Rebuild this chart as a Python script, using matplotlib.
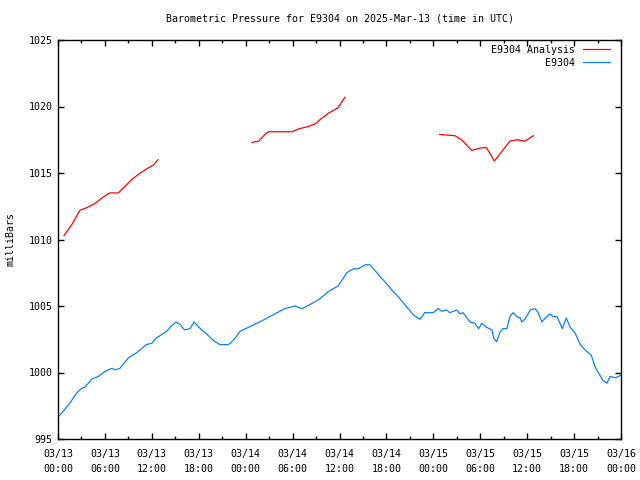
"""
Barometric pressure for E9304, gnuplot-style recreation
"""

import numpy as np
from matplotlib import pyplot as plt
from matplotlib.ticker import MultipleLocator

title = "Barometric Pressure for E9304 on 2025-Mar-13 (time in UTC)"

# hours since 03/13 00:00 UTC
obsHours = [0.0, 0.26, 1.53, 2.3, 3.0, 3.45, 4.3, 5.15, 5.8, 6.4, 6.9, 7.3, 7.9,
            9.0, 10.1, 11.3, 12.0, 12.6, 13.9, 14.5, 15.1, 15.6, 16.2, 16.9,
            17.4, 18.2, 19.0, 19.9, 20.7, 21.8, 22.4, 23.3, 24.0, 25.8, 27.7,
            29.0, 30.3, 31.2, 32.2, 33.4, 34.6, 35.2, 35.8, 36.5, 36.9, 37.8,
            38.4, 39.3, 39.9, 40.5, 41.2, 42.0, 42.7, 43.5, 44.5, 45.5, 46.3,
            46.9, 48.0, 48.6, 49.1, 49.7, 50.1, 51.0, 51.4, 51.8, 52.7, 53.3,
            53.8, 54.2, 54.8, 55.5, 55.7, 56.1, 56.5, 56.9, 57.4, 57.8, 58.2,
            58.7, 59.1, 59.3, 59.7, 60.4, 61.0, 61.4, 61.9, 62.3, 62.9, 63.3,
            63.8, 64.2, 64.5, 65.0, 65.5, 66.1, 66.8, 67.4, 68.2, 68.7, 69.3,
            69.7, 70.2, 70.6, 71.3, 72.0]
obsPressure = [996.7, 996.8, 997.7, 998.4, 998.8, 998.9, 999.5, 999.7, 1000.0,
               1000.2, 1000.3, 1000.2, 1000.3, 1001.1, 1001.5, 1002.1, 1002.2,
               1002.6, 1003.1, 1003.5, 1003.8, 1003.6, 1003.2, 1003.3, 1003.8,
               1003.3, 1002.9, 1002.4, 1002.1, 1002.1, 1002.4, 1003.1, 1003.3,
               1003.8, 1004.4, 1004.8, 1005.0, 1004.8, 1005.1, 1005.5, 1006.1,
               1006.3, 1006.5, 1007.1, 1007.5, 1007.8, 1007.8, 1008.1, 1008.1,
               1007.7, 1007.2, 1006.7, 1006.2, 1005.7, 1005.0, 1004.3, 1004.0,
               1004.5, 1004.5, 1004.8, 1004.6, 1004.7, 1004.5, 1004.7, 1004.4,
               1004.5, 1003.8, 1003.7, 1003.3, 1003.7, 1003.4, 1003.2, 1002.6,
               1002.3, 1003.0, 1003.3, 1003.3, 1004.2, 1004.5, 1004.2, 1004.1,
               1003.8, 1004.0, 1004.7, 1004.8, 1004.5, 1003.8, 1004.1, 1004.4,
               1004.2, 1004.2, 1003.7, 1003.3, 1004.1, 1003.4, 1003.0, 1002.1,
               1001.7, 1001.3, 1000.4, 999.8, 999.4, 999.2, 999.7, 999.6, 999.8]

# analysis segments (NaN splits the gaps)
anaHours = [0.77, 1.75, 2.8, 3.7, 4.7, 5.8, 6.6, 7.7, 8.6, 9.4, 10.3, 11.3, 12.2, 12.8,
            np.nan,
            24.8, 25.7, 26.3, 26.9, 29.2, 29.9, 30.7, 32.0, 32.9, 33.7, 34.6, 35.8, 36.7,
            np.nan,
            48.8, 50.8, 51.6, 52.9, 54.2, 54.8, 55.8, 57.8, 58.7, 59.7, 60.8]
anaPressure = [1010.3, 1011.1, 1012.2, 1012.4, 1012.7, 1013.2, 1013.5, 1013.5,
               1014.0, 1014.5, 1014.9, 1015.3, 1015.6, 1016.0,
               np.nan,
               1017.3, 1017.4, 1017.8, 1018.1, 1018.1, 1018.1, 1018.3, 1018.5,
               1018.7, 1019.1, 1019.5, 1019.9, 1020.7,
               np.nan,
               1017.9, 1017.8, 1017.5, 1016.7, 1016.9, 1016.9, 1015.9, 1017.4,
               1017.5, 1017.4, 1017.8]

tickHours = list(range(0, 73, 6))
tickLabels = ["03/13\n00:00", "03/13\n06:00", "03/13\n12:00", "03/13\n18:00",
              "03/14\n00:00", "03/14\n06:00", "03/14\n12:00", "03/14\n18:00",
              "03/15\n00:00", "03/15\n06:00", "03/15\n12:00", "03/15\n18:00",
              "03/16\n00:00"]

plt.rcParams['font.family'] = ['DejaVu Sans Mono']
plt.rcParams['font.size'] = 7.2

fig = plt.figure(figsize=(6.4, 4.8), dpi=100)
ax = fig.add_axes([58 / 640, 1 - 439 / 480, 563 / 640, 399 / 480])

ax.plot(anaHours, anaPressure, color="#ff0000", lw=0.9, label="E9304 Analysis")
ax.plot(obsHours, obsPressure, color="#0a80ff", lw=0.9, label="E9304".rjust(14))

ax.set_xlim(0, 72)
ax.set_ylim(995, 1025)
ax.set_xticks(tickHours)
ax.set_xticklabels(tickLabels, linespacing=1.65)
ax.xaxis.set_minor_locator(MultipleLocator(3))
ax.yaxis.set_major_locator(MultipleLocator(5))
ax.tick_params(which="both", direction="in", top=True, right=True, width=1)
ax.tick_params(which="major", length=4.5)
ax.tick_params(which="minor", length=2.5)
ax.tick_params(axis="x", which="major", pad=7)
ax.tick_params(axis="y", which="major", pad=4)
for s in ax.spines.values():
    s.set_linewidth(1)

ax.set_ylabel("milliBars", labelpad=9)
ax.set_title(title, fontsize=7.2, pad=13.5)
ax.legend(loc="upper right", bbox_to_anchor=(0.9805, 0.9875), frameon=False,
          markerfirst=False, handlelength=2.7, borderaxespad=0, borderpad=0,
          labelspacing=0.3, handletextpad=0.8)

fig.savefig("out.png", dpi=100)
